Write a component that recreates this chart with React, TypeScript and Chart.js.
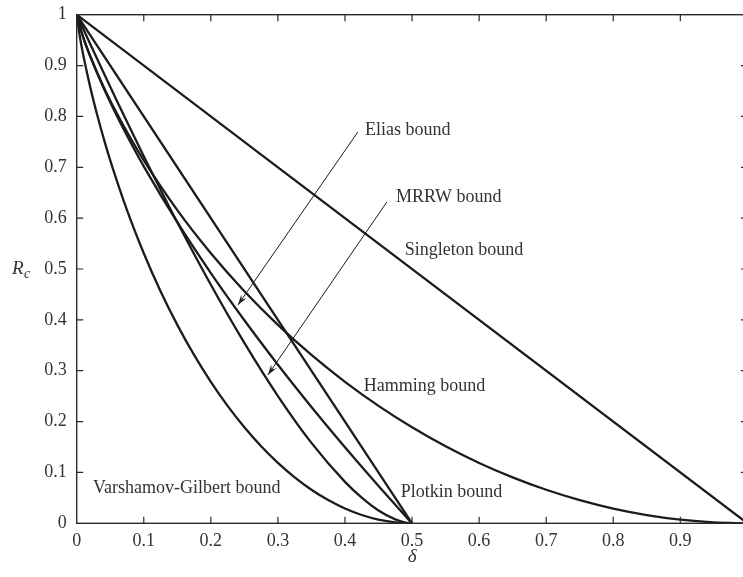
import React, { useEffect, useRef } from "react";
import { Chart, registerables } from "chart.js";

Chart.register(...registerables);

const FONT = '"Liberation Serif", "Times New Roman", serif';
const INK = "#1c1c1c";
const TEXT = "#333333";

// tick labels
const xTickLabels = ["0", "0.1", "0.2", "0.3", "0.4", "0.5", "0.6", "0.7", "0.8", "0.9", ""];
const yTickLabels = ["0", "0.1", "0.2", "0.3", "0.4", "0.5", "0.6", "0.7", "0.8", "0.9", "1"];

// Singleton bound
const singletonDelta = [0, 1];
const singletonR = [1, 0];

// Plotkin bound
const plotkinDelta = [0, 0.5];
const plotkinR = [1, 0];

// Hamming bound
const hammingDelta = [0, 0.01, 0.02, 0.04, 0.06, 0.08, 0.1, 0.15, 0.2, 0.25, 0.3, 0.35, 0.4, 0.45, 0.5, 0.55, 0.6, 0.65, 0.7, 0.75, 0.8, 0.85, 0.9, 0.95, 1.0];
const hammingR = [1, 0.9546, 0.9192, 0.8586, 0.8056, 0.7577, 0.7136, 0.6157, 0.531, 0.4564, 0.3902, 0.331, 0.2781, 0.2308, 0.1887, 0.1514, 0.1187, 0.0903, 0.0659, 0.0456, 0.029, 0.0163, 0.0072, 0.0018, 0];

// Elias bound
const eliasDelta = [0, 0.005, 0.01, 0.02, 0.04, 0.06, 0.08, 0.1, 0.15, 0.2, 0.25, 0.3, 0.35, 0.4, 0.425, 0.45, 0.475, 0.49, 0.5];
const eliasR = [1, 0.9748, 0.9544, 0.9185, 0.8562, 0.8008, 0.7498, 0.7019, 0.592, 0.492, 0.3992, 0.3118, 0.2288, 0.1495, 0.1111, 0.0734, 0.0364, 0.0145, 0];

// MRRW bound
const mrrwDelta = [0, 0.005, 0.01, 0.02, 0.04, 0.06, 0.08, 0.1, 0.15, 0.2, 0.25, 0.3, 0.35, 0.4, 0.425, 0.45, 0.475, 0.49, 0.5];
const mrrwR = [1, 0.9856, 0.9712, 0.9427, 0.8862, 0.8305, 0.7757, 0.7219, 0.5918, 0.469, 0.3546, 0.2502, 0.1581, 0.0815, 0.0504, 0.0252, 0.0076, 0.0015, 0];

// Varshamov-Gilbert bound
const vgDelta = [0, 0.005, 0.01, 0.02, 0.03, 0.04, 0.05, 0.075, 0.1, 0.125, 0.15, 0.175, 0.2, 0.225, 0.25, 0.275, 0.3, 0.325, 0.35, 0.375, 0.4, 0.425, 0.45, 0.475, 0.5];
const vgR = [1, 0.9546, 0.9192, 0.8586, 0.8056, 0.7577, 0.7136, 0.6157, 0.531, 0.4564, 0.3902, 0.331, 0.2781, 0.2308, 0.1887, 0.1514, 0.1187, 0.0903, 0.0659, 0.0456, 0.029, 0.0163, 0.0072, 0.0018, 0];

// annotation labels (data coordinates of left/middle of text)
const labelTexts = ["Elias bound", "MRRW bound", "Singleton bound", "Hamming bound", "Plotkin bound", "Varshamov-Gilbert bound"];
const labelDelta = [0.4297, 0.476, 0.489, 0.428, 0.4833, 0.0243];
const labelR = [0.7733, 0.6416, 0.537, 0.2688, 0.0615, 0.0695];

// arrows: start -> end (data coords)
const arrowStartDelta = [0.4192, 0.4624];
const arrowStartR = [0.7694, 0.6317];
const arrowEndDelta = [0.2404, 0.2851];
const arrowEndR = [0.4292, 0.2916];

const tickSteps = [0.1, 0.2, 0.3, 0.4, 0.5, 0.6, 0.7, 0.8, 0.9];

const pts = (xs: number[], ys: number[]) => xs.map((x, i) => ({ x, y: ys[i] }));

const decorPlugin = {
  id: "decor",
  afterDatasetsDraw(chart: any) {
    const { ctx, chartArea: a, scales } = chart;
    const xs = scales.x;
    const ys = scales.y;
    ctx.save();
    // frame
    ctx.strokeStyle = "#2a2a2a";
    ctx.lineWidth = 1.4;
    ctx.strokeRect(a.left, a.top, a.right - a.left, a.bottom - a.top);
    // inward ticks
    const tl = 6.5;
    ctx.lineWidth = 1.2;
    ctx.beginPath();
    tickSteps.forEach((v) => {
      const px = xs.getPixelForValue(v);
      ctx.moveTo(px, a.bottom);
      ctx.lineTo(px, a.bottom - tl);
      ctx.moveTo(px, a.top);
      ctx.lineTo(px, a.top + tl);
      const py = ys.getPixelForValue(v);
      ctx.moveTo(a.left, py);
      ctx.lineTo(a.left + tl, py);
      ctx.moveTo(a.right, py);
      ctx.lineTo(a.right - tl, py);
    });
    ctx.stroke();

    // labels
    ctx.fillStyle = TEXT;
    ctx.font = `18px ${FONT}`;
    ctx.textAlign = "left";
    ctx.textBaseline = "middle";
    labelTexts.forEach((t, i) => {
      ctx.fillText(t, xs.getPixelForValue(labelDelta[i]), ys.getPixelForValue(labelR[i]));
    });

    // arrows
    ctx.strokeStyle = INK;
    ctx.fillStyle = INK;
    ctx.lineWidth = 1;
    arrowStartDelta.forEach((_, i) => {
      const x0 = xs.getPixelForValue(arrowStartDelta[i]);
      const y0 = ys.getPixelForValue(arrowStartR[i]);
      const x1 = xs.getPixelForValue(arrowEndDelta[i]);
      const y1 = ys.getPixelForValue(arrowEndR[i]);
      ctx.beginPath();
      ctx.moveTo(x0, y0);
      ctx.lineTo(x1, y1);
      ctx.stroke();
      const ang = Math.atan2(y1 - y0, x1 - x0);
      const L = 11;
      const s = 0.3;
      ctx.beginPath();
      ctx.moveTo(x1, y1);
      ctx.lineTo(x1 - L * Math.cos(ang - s), y1 - L * Math.sin(ang - s));
      ctx.lineTo(x1 - 0.6 * L * Math.cos(ang), y1 - 0.6 * L * Math.sin(ang));
      ctx.lineTo(x1 - L * Math.cos(ang + s), y1 - L * Math.sin(ang + s));
      ctx.closePath();
      ctx.fill();
    });

    // y axis title R_c
    const cy = (a.top + a.bottom) / 2;
    ctx.fillStyle = TEXT;
    ctx.font = `italic 19px ${FONT}`;
    ctx.textAlign = "left";
    ctx.textBaseline = "alphabetic";
    ctx.fillText("R", 12, cy + 5);
    ctx.font = `italic 14px ${FONT}`;
    ctx.fillText("c", 24, cy + 9);
    ctx.restore();
  },
};

export default function App() {
  const ref = useRef<HTMLCanvasElement>(null);
  useEffect(() => {
    if (!ref.current) return;
    const line = (xs: number[], ys: number[]) => ({
      data: pts(xs, ys),
      borderColor: INK,
      borderWidth: 2.3,
      pointRadius: 0,
      fill: false,
      cubicInterpolationMode: "monotone" as const,
    });
    const chart = new Chart(ref.current, {
      type: "line",
      data: {
        datasets: [
          line(singletonDelta, singletonR),
          line(plotkinDelta, plotkinR),
          line(hammingDelta, hammingR),
          line(eliasDelta, eliasR),
          line(mrrwDelta, mrrwR),
          line(vgDelta, vgR),
        ],
      },
      options: {
        responsive: false,
        animation: false,
        devicePixelRatio: 1,
        layout: { padding: { top: 14.7, right: 4.6, left: 0, bottom: 0 } },
        plugins: { legend: { display: false }, tooltip: { enabled: false } },
        scales: {
          x: {
            type: "linear",
            min: 0,
            max: 1,
            grid: { display: false, drawTicks: false },
            border: { display: false },
            ticks: {
              stepSize: 0.1,
              autoSkip: false,
              maxRotation: 0,
              padding: 7,
              color: TEXT,
              font: { family: FONT, size: 18 },
              callback: (_v: any, i: number) => xTickLabels[i],
            },
            title: {
              display: true,
              text: "δ",
              color: TEXT,
              font: { family: FONT, size: 19, style: "italic" },
              padding: { top: 0, bottom: 9 },
            },
            afterFit: (s: any) => {
              s.height = 53.7;
              s.paddingLeft = 0;
              s.paddingRight = 0;
            },
          } as any,
          y: {
            type: "linear",
            min: 0,
            max: 1,
            grid: { display: false, drawTicks: false },
            border: { display: false },
            ticks: {
              stepSize: 0.1,
              autoSkip: false,
              padding: 10,
              color: TEXT,
              font: { family: FONT, size: 18 },
              callback: (_v: any, i: number) => yTickLabels[i],
            },
            afterFit: (s: any) => {
              s.width = 76.7;
              s.paddingTop = 0;
              s.paddingBottom = 0;
            },
          } as any,
        },
      },
      plugins: [decorPlugin],
    });
    return () => chart.destroy();
  }, []);
  return (
    <div
      style={{
        position: "fixed",
        left: 0,
        top: 0,
        width: 743,
        height: 577,
        overflow: "hidden",
        background: "#fff",
      }}
    >
      <canvas ref={ref} width={752} height={577} style={{ width: 752, height: 577, display: "block" }} />
    </div>
  );
}
